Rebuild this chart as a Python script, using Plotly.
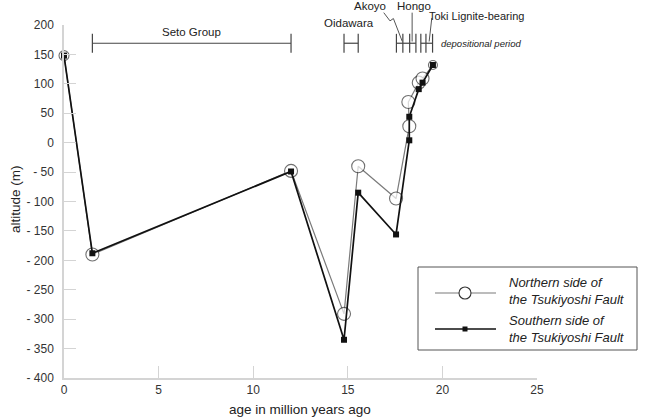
import plotly.graph_objects as go

# ---------------- data ----------------
north_age = [0, 1.5, 12, 14.8, 15.55, 17.55, 18.25, 18.2, 18.75, 18.95, 19.5]
north_alt = [148, -190, -48, -291, -40, -95, 28, 69, 102, 109, 132]
south_age = [0, 1.5, 12, 14.8, 15.55, 17.55, 18.25, 18.25, 18.75, 18.95, 19.5]
south_alt = [148, -188, -49, -335, -85, -156, 4, 44, 91, 102, 132]

y_ticks = [200, 150, 100, 50, 0, -50, -100, -150, -200, -250, -300, -350, -400]
x_ticks = [0, 5, 10, 15, 20, 25]

# depositional periods (age ranges) and tick marks
period_bars = [(1.5, 12), (14.8, 15.55), (17.57, 18.6), (18.86, 19.48)]
period_ticks = [1.5, 12, 14.8, 15.55, 17.57, 17.91, 18.27, 18.6, 18.86, 19.13, 19.48]
bar_alt = 169

# ---------------- styling constants ----------------
FONT = "Liberation Sans, Arial, sans-serif"
W, H = 646, 419
ML, MR, MT, MB = 64, 109, 25, 41
PW, PH = W - ML - MR, H - MT - MB
XR = (0, 25)
YR = (-400, 200)


def dx(x):
    return (x - XR[0]) / (XR[1] - XR[0])


def dy(y):
    return (y - YR[0]) / (YR[1] - YR[0])


def px(x):
    return (x - ML) / PW


def py(y):
    return (MT + PH - y) / PH


north_sizes = [10] + [13] * (len(north_age) - 2) + [9]

fig = go.Figure()
fig.add_trace(go.Scatter(
    x=north_age, y=north_alt, mode="lines+markers", name="Northern",
    line=dict(color="#7a7a7a", width=1.2),
    marker=dict(symbol="circle", size=north_sizes, color="white",
                line=dict(color="#333333", width=1.1)),
    cliponaxis=False, showlegend=False))
fig.add_trace(go.Scatter(
    x=south_age, y=south_alt, mode="lines+markers", name="Southern",
    line=dict(color="#111111", width=1.7),
    marker=dict(symbol="square", size=6, color="#111111"),
    cliponaxis=False, showlegend=False))

shapes = []
ann = []
BAR_COL = "#444444"
half = 16
for a, b in period_bars:
    shapes.append(dict(type="line", xref="paper", yref="paper",
                       x0=dx(a), x1=dx(b), y0=dy(bar_alt), y1=dy(bar_alt),
                       line=dict(color=BAR_COL, width=1.2)))
for t in period_ticks:
    shapes.append(dict(type="line", xref="paper", yref="paper",
                       x0=dx(t), x1=dx(t), y0=dy(bar_alt - half), y1=dy(bar_alt + half),
                       line=dict(color=BAR_COL, width=1.2)))

# leader lines
leaders = [
    [(16.9, 221), (17.23, 207), (17.41, 211), (17.88, 172)],
    [(18.4, 221), (18.4, 172)],
    [(19.44, 212), (19.3, 172)],
]
for pts in leaders:
    for (x0, y0), (x1, y1) in zip(pts[:-1], pts[1:]):
        shapes.append(dict(type="line", xref="paper", yref="paper",
                           x0=dx(x0), x1=dx(x1), y0=dy(y0), y1=dy(y1),
                           line=dict(color="#555555", width=1)))

TXT = "#222222"


def note(text, x, y, size, xanchor="center", **kw):
    d = dict(text=text, x=x, y=y, xref="paper", yref="paper", xanchor=xanchor,
             yanchor="middle", showarrow=False, font=dict(family=FONT, size=size, color=TXT))
    d.update(kw)
    ann.append(d)


note("Seto Group", dx(6.75), dy(188), 11.5)
note("Oidawara", dx(15.05), dy(203), 11.5)
note("Akoyo", dx(17.15), dy(232), 11.5, xanchor="right")
note("Hongo", dx(17.5), dy(232), 11.5, xanchor="left")
note("Toki Lignite-bearing", dx(19.17), dy(215), 11, xanchor="left")
note("<i>depositional period</i>", dx(19.8), dy(bar_alt), 9.5, xanchor="left")

# axis titles
note("altitude (m)", px(15), py(199), 13.5, textangle=-90)
note("age in million years ago", px(300), py(409), 13.5)

# custom legend
shapes.append(dict(type="rect", xref="paper", yref="paper",
                   x0=px(418), x1=px(637), y0=py(267), y1=py(350),
                   line=dict(color="#555555", width=1), fillcolor="white", layer="above"))
shapes.append(dict(type="line", xref="paper", yref="paper", x0=px(435), x1=px(496),
                   y0=py(293), y1=py(293), line=dict(color="#7a7a7a", width=1.2)))
shapes.append(dict(type="circle", xref="paper", yref="paper", x0=px(459), x1=px(471),
                   y0=py(287), y1=py(299), fillcolor="white",
                   line=dict(color="#333333", width=1.1)))
shapes.append(dict(type="line", xref="paper", yref="paper", x0=px(435), x1=px(496),
                   y0=py(329), y1=py(329), line=dict(color="#111111", width=1.7)))
shapes.append(dict(type="rect", xref="paper", yref="paper", x0=px(462.5), x1=px(467.5),
                   y0=py(326.5), y1=py(331.5), fillcolor="#111111",
                   line=dict(color="#111111", width=0)))
note("<i>Northern side of<br>the Tsukiyoshi Fault</i>", px(507), py(290.5), 13,
     xanchor="left", align="left")
note("<i>Southern side of<br>the Tsukiyoshi Fault</i>", px(507), py(328.5), 13,
     xanchor="left", align="left")

AX = "#d4d4d4"
fig.update_layout(
    width=W, height=H,
    margin=dict(l=ML, r=MR, t=MT, b=MB, pad=0),
    paper_bgcolor="white", plot_bgcolor="white",
    font=dict(family=FONT, size=12, color="#333333"),
    shapes=shapes, annotations=ann, showlegend=False,
    xaxis=dict(range=list(XR), tickvals=x_ticks, ticktext=[str(v) for v in x_ticks],
               showgrid=False, zeroline=False, showline=True, linecolor=AX, linewidth=1.5,
               ticks="inside", ticklen=12, tickcolor=AX, tickwidth=1.2,
               tickfont=dict(family=FONT, size=12, color="#333333")),
    yaxis=dict(range=list(YR), tickvals=y_ticks,
               ticktext=[str(v) if v >= 0 else f"- {abs(v)}" for v in y_ticks],
               showgrid=False, zeroline=False, showline=True, linecolor=AX, linewidth=1.5,
               ticks="inside", ticklen=12, tickcolor=AX, tickwidth=1.2,
               ticklabelstandoff=6,
               tickfont=dict(family=FONT, size=12, color="#333333")),
)

fig.write_html("out.html")
